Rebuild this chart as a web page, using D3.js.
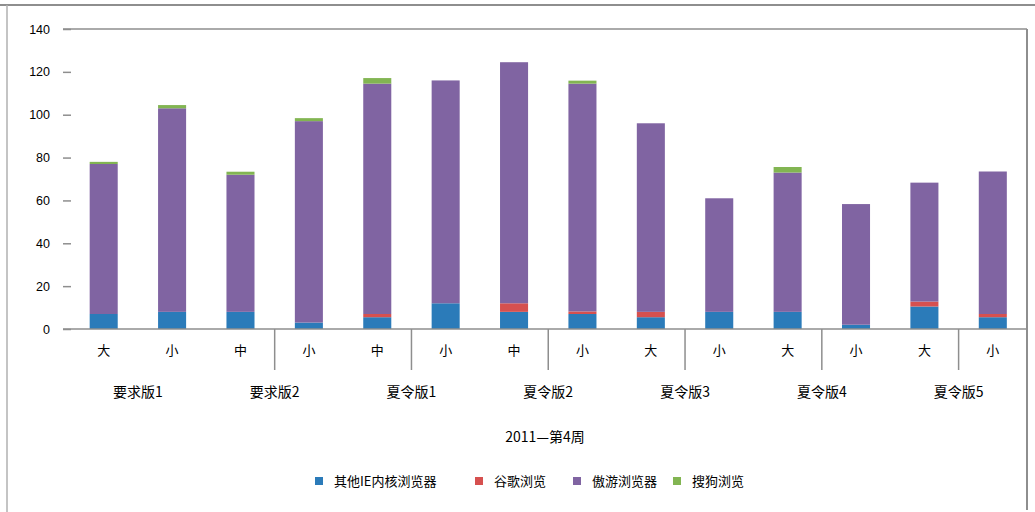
<!DOCTYPE html>
<html>
<head>
<meta charset="utf-8">
<script src="https://cdn.jsdelivr.net/npm/d3@7"></script>
<style>
  html, body { margin: 0; padding: 0; background: #fff; }
  svg { display: block; font-family: "Liberation Sans", "Noto Sans CJK SC", sans-serif; }
</style>
</head>
<body>
<svg id="chart" width="1035" height="512"></svg>
<script>
// ---- data ----
const subLabels = ["大", "小", "中", "小", "中", "小", "中", "小", "大", "小", "大", "小", "大", "小"];
const groupLabels = ["要求版1", "要求版2", "夏令版1", "夏令版2", "夏令版3", "夏令版4", "夏令版5"];
const dividerAfter = [3, 5, 7, 9, 11, 13];
const axisTitle = "2011—第4周";
const seriesNames = ["其他IE内核浏览器", "谷歌浏览", "傲游浏览器", "搜狗浏览"];
const seriesColors = ["#2B7BB9", "#D6504F", "#8064A2", "#82B552"];
const blueVals   = [7, 8, 8, 3, 5.5, 12, 8, 7, 5.5, 8, 8, 2, 10.5, 5.5];
const redVals    = [0, 0, 0, 0, 1.5, 0, 4, 1.2, 2.5, 0, 0, 0, 2.3, 1.5];
const purpleVals = [70, 95, 64, 94, 107.5, 104, 112.5, 106.3, 88, 53, 65, 56.3, 55.5, 66.5];
const greenVals  = [1, 1.5, 1.4, 1.4, 2.6, 0, 0, 1.4, 0, 0, 2.6, 0, 0, 0];
const yTicks = [0, 20, 40, 60, 80, 100, 120, 140];

// ---- build table ----
const keys = ["s0", "s1", "s2", "s3"];
const table = subLabels.map((c, i) => ({
  idx: i, s0: blueVals[i], s1: redVals[i], s2: purpleVals[i], s3: greenVals[i]
}));

const svg = d3.select("#chart");
const L = 69.5, R = 1027, T = 29, B = 329;
const lineCol = "#8e8e8e";

const x = d3.scaleBand().domain(d3.range(subLabels.length)).range([L, R])
  .paddingInner(0.59).paddingOuter(0.295);
const y = d3.scaleLinear().domain([0, 140]).range([B, T]);

// outer chart border
svg.append("line").attr("x1", 0).attr("x2", 1035).attr("y1", 5).attr("y2", 5)
  .attr("stroke", lineCol).attr("stroke-width", 2);
svg.append("line").attr("x1", 7).attr("x2", 7).attr("y1", 5).attr("y2", 512)
  .attr("stroke", "#b0b0b0").attr("stroke-width", 1.5);

// plot area border top & right
svg.append("line").attr("x1", 63).attr("x2", 1027).attr("y1", T).attr("y2", T)
  .attr("stroke", lineCol).attr("stroke-width", 1.5);
svg.append("line").attr("x1", 1027).attr("x2", 1027).attr("y1", T).attr("y2", 510)
  .attr("stroke", lineCol).attr("stroke-width", 2);

// stacked bars
const stacked = d3.stack().keys(keys)(table);
svg.append("g").selectAll("g").data(stacked).join("g")
  .attr("fill", (d, i) => seriesColors[i])
  .selectAll("rect").data(d => d).join("rect")
  .attr("x", d => x(d.data.idx))
  .attr("width", x.bandwidth())
  .attr("y", d => y(d[1]))
  .attr("height", d => Math.max(0, y(d[0]) - y(d[1])));

// y axis
const axisX = 67;
const yAxis = svg.append("g").attr("transform", `translate(${axisX},0)`)
  .call(d3.axisLeft(y).tickValues(yTicks).tickSizeInner(4).tickSizeOuter(0).tickPadding(13));
yAxis.select(".domain").remove();
yAxis.selectAll(".tick line").attr("x1", -4).attr("x2", 4).attr("stroke", lineCol).attr("stroke-width", 1.5);
yAxis.selectAll(".tick text").attr("font-size", 12.5).attr("fill", "#000")
  .attr("font-family", "Liberation Sans, sans-serif");

// x axis baseline
svg.append("line").attr("x1", 63).attr("x2", R).attr("y1", B).attr("y2", B)
  .attr("stroke", lineCol).attr("stroke-width", 1.5);

// x sub labels via axis
const xAxis = svg.append("g").attr("transform", `translate(0,${B})`)
  .call(d3.axisBottom(x).tickSize(0).tickPadding(17).tickFormat(i => subLabels[i]));
xAxis.select(".domain").remove();
xAxis.selectAll(".tick text").attr("font-size", 13).attr("fill", "#000")
  .attr("font-family", "Noto Sans CJK SC, sans-serif");

// group dividers
const step = x.step();
svg.append("g").selectAll("line").data(dividerAfter).join("line")
  .attr("x1", d => L + d * step).attr("x2", d => L + d * step)
  .attr("y1", B).attr("y2", 370)
  .attr("stroke", lineCol).attr("stroke-width", 1.5);

// group labels (centered between bar pairs)
svg.append("g").selectAll("text").data(groupLabels).join("text")
  .attr("x", (d, i) => {
    const a = x(2 * i) + x.bandwidth() / 2;
    const b = (2 * i + 1 < subLabels.length) ? x(2 * i + 1) + x.bandwidth() / 2 : a + step;
    return (a + b) / 2;
  })
  .attr("y", 397).attr("text-anchor", "middle")
  .attr("font-size", 14).attr("font-family", "Noto Sans CJK SC, sans-serif")
  .text(d => d);

// axis title
svg.append("text").attr("x", 545).attr("y", 442).attr("text-anchor", "middle")
  .attr("font-size", 14).attr("font-family", "Noto Sans CJK SC, sans-serif")
  .text(axisTitle);

// legend
const legendX = [315, 475, 573, 673];
const lg = svg.append("g").selectAll("g").data(seriesNames).join("g")
  .attr("transform", (d, i) => `translate(${legendX[i]},477)`);
lg.append("rect").attr("width", 8).attr("height", 8).attr("fill", (d, i) => seriesColors[i]);
lg.append("text").attr("x", 19).attr("y", 9)
  .attr("font-size", 13).attr("font-family", "Noto Sans CJK SC, sans-serif")
  .text(d => d);
</script>
</body>
</html>
